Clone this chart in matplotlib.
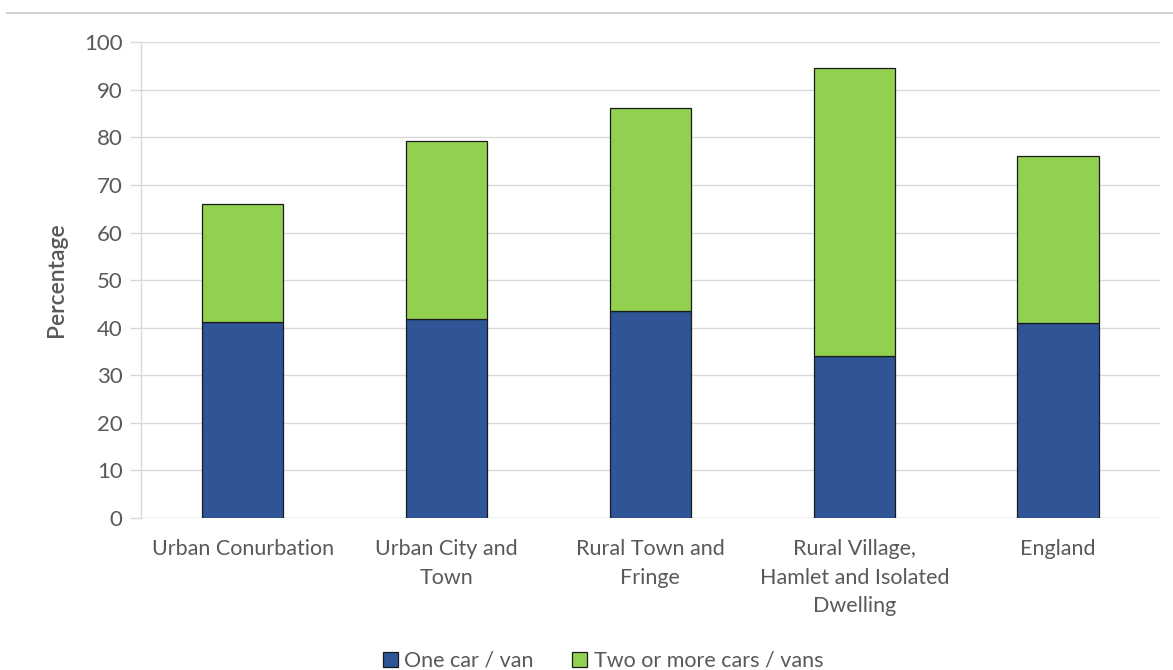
import matplotlib
matplotlib.use("Agg")
import matplotlib.pyplot as plt
from matplotlib.lines import Line2D

categories = ["Urban Conurbation", "Urban City and\nTown", "Rural Town and\nFringe",
              "Rural Village,\nHamlet and Isolated\nDwelling", "England"]
one_car = [41.2, 41.8, 43.4, 34.0, 41.0]
two_plus = [24.8, 37.4, 42.7, 60.5, 35.0]
series_names = ["One car / van", "Two or more cars / vans"]

BLUE = "#2F5597"
GREEN = "#92D050"
GREY = "#595959"

plt.rcParams["font.family"] = ["Lato", "DejaVu Sans"]

fig = plt.figure(figsize=(11.73, 6.70), dpi=100)
ax = fig.add_axes([0.120, 0.2269, 0.869, 0.7101])

x = range(len(categories))
ax.bar(x, one_car, width=0.40, color=BLUE, edgecolor="#1a1a1a", lw=0.9,
       label=series_names[0], zorder=3)
ax.bar(x, two_plus, width=0.40, bottom=one_car, color=GREEN, edgecolor="#1a1a1a",
       lw=0.9, label=series_names[1], zorder=3)

ax.set_xlim(-0.5, len(categories) - 0.5)
ax.set_ylim(0, 100)
ax.set_yticks(range(0, 101, 10))
ax.yaxis.grid(True, color="#d9d9d9", lw=1.0, zorder=0)
for side in ["top", "right", "bottom"]:
    ax.spines[side].set_visible(False)
ax.spines["left"].set_color("#d9d9d9")
ax.spines["left"].set_linewidth(1.0)
ax.axhline(0, color="#d9d9d9", lw=1.0, zorder=1)

ax.set_xticks(list(x))
ax.set_xticklabels(categories, fontsize=15.5, color=GREY, linespacing=1.55)
ax.tick_params(axis="x", length=0, pad=15)
ax.tick_params(axis="y", labelsize=16, labelcolor=GREY, color="#d9d9d9",
               length=8, width=1.0, pad=5)
ax.set_ylabel("Percentage", fontsize=16.5, color=GREY, fontweight="semibold", labelpad=12)

fig.legend(loc="lower center", bbox_to_anchor=(0.514, -0.03), ncol=2, frameon=False,
           fontsize=15.5, labelcolor=GREY, handlelength=0.7, handleheight=0.7,
           handletextpad=0.3, columnspacing=1.8)

fig.add_artist(Line2D([0.006, 1.0], [0.981, 0.981], color="#c8c8c8", lw=1.2))

fig.savefig("out.png", dpi=100)
